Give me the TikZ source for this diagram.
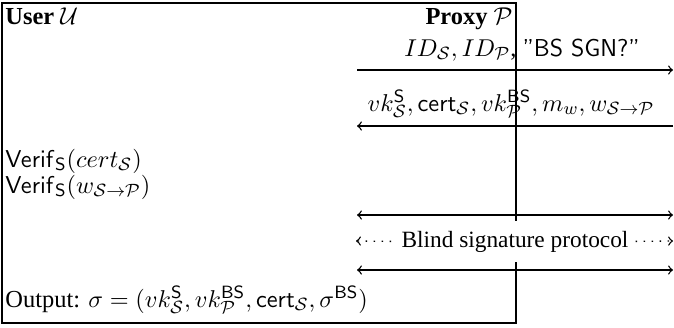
\documentclass[tikz,border=0pt]{standalone}
\usepackage[no-math]{fontspec}
\setmainfont{Liberation Serif}
\tikzset{
  px/.style={x=0.45pt,y=-0.45pt},
  msg/.style={line width=0.6pt,->},
  bmsg/.style={line width=0.6pt,<->},
  dotarrow/.style={line width=0.6pt,->,dash pattern=on 0.7pt off 2.9pt},
  lbl/.style={inner sep=0pt,font=\fontsize{11}{13}\selectfont},
}
\begin{document}
\begin{tikzpicture}[px]
\useasboundingbox (0,0) rectangle (674,327);
% frame
\draw[line width=0.9pt] (2,3) rectangle (516,323);
% headers
\node[lbl,anchor=base west] (user) at (5,24) {\textbf{User} $\mathcal{U}$};
\node[lbl,anchor=base east] (proxy) at (513,24) {\textbf{Proxy} $\mathcal{P}$};
% message 1
\coordinate (a1l) at (357,70);
\coordinate (a1r) at (673,70);
\draw[msg] (a1l) -- (a1r);
\node[lbl,anchor=base] (lab1) at (522,56) {$ID_{\mathcal{S}}, ID_{\mathcal{P}}$, \textsf{"BS SGN?"}};
% message 2
\coordinate (a2l) at (357,126);
\coordinate (a2r) at (673,126);
\draw[msg] (a2r) -- (a2l);
\node[lbl,anchor=base] (lab2) at (511,111) {$vk^{\mathsf{S}}_{\mathcal{S}}, \mathsf{cert}_{\mathcal{S}}, vk^{\mathsf{BS}}_{\mathcal{P}}, m_w, w_{\mathcal{S}\rightarrow\mathcal{P}}$};
% verifications
\node[lbl,anchor=base west] (ver1) at (5,167) {$\mathsf{Verif}_{\mathsf{S}}(cert_{\mathcal{S}})$};
\node[lbl,anchor=base west] (ver2) at (5,193) {$\mathsf{Verif}_{\mathsf{S}}(w_{\mathcal{S}\rightarrow\mathcal{P}})$};
% blind signature exchange
\coordinate (a3l) at (357,215);
\coordinate (a3r) at (673,215);
\draw[bmsg] (a3l) -- (a3r);
\node[font=\fontsize{10.5}{12}\selectfont,fill=white,inner xsep=1pt,inner ysep=4.5pt,anchor=base] (blind) at (515,247) {Blind signature protocol};
\coordinate (dl) at (356,241);
\coordinate (dr) at (673,241);
\draw[dotarrow,shorten <=3.5pt] (blind.west) -- (dl);
\draw[dotarrow,shorten <=2pt] (blind.east) -- (dr);
\coordinate (a5l) at (357,270);
\coordinate (a5r) at (673,270);
\draw[bmsg] (a5l) -- (a5r);
% output
\node[lbl,anchor=base west] (out) at (5,307) {Output: $\sigma = (vk^{\mathsf{S}}_{\mathcal{S}}, vk^{\mathsf{BS}}_{\mathcal{P}}, \mathsf{cert}_{\mathcal{S}}, \sigma^{\mathsf{BS}})$};
\end{tikzpicture}
\end{document}
